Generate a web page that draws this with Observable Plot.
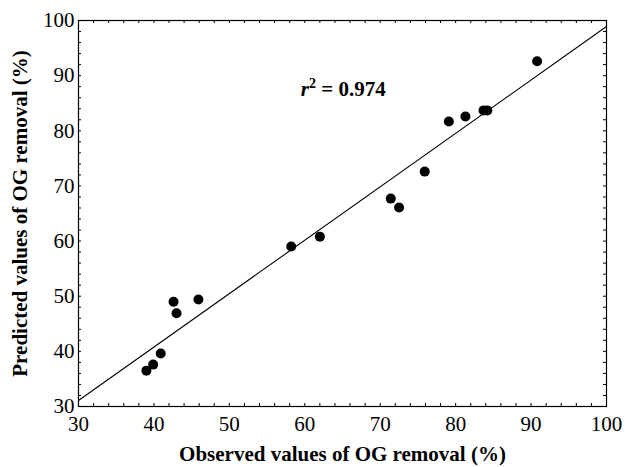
<!DOCTYPE html>
<html><head><meta charset="utf-8">
<script src="https://cdn.jsdelivr.net/npm/d3@7"></script>
<script src="https://cdn.jsdelivr.net/npm/@observablehq/plot@0.6"></script>
<style>html,body{margin:0;padding:0;background:#fff;}</style>
</head><body><div id="chart"></div>
<script>
// Data
const observed  = [39.0, 39.9, 40.9, 42.6, 43.0, 45.9, 58.2, 62.0, 71.4, 72.5, 75.9, 79.1, 81.3, 83.7, 84.2, 90.8];
const predicted = [36.5, 37.6, 39.6, 49.0, 46.9, 49.4, 59.0, 60.8, 67.7, 66.1, 72.6, 81.7, 82.6, 83.7, 83.7, 92.6];
const fitX = [30, 100];
const fitY = [31.1, 98.9];
const xTicks = [30, 40, 50, 60, 70, 80, 90, 100];
const yTicks = [30, 40, 50, 60, 70, 80, 90, 100];
const minorTicks = d3.range(30, 100.1, 2);
const xLabel = "Observed values of OG removal (%)";
const yLabel = "Predicted values of OG removal (%)";
const annotation = "r2 = 0.974";
const annotationAt = {x: 65.1, y: 87.6};

const points = observed.map((x, i) => ({x, y: predicted[i]}));
const fit = fitX.map((x, i) => ({x, y: fitY[i]}));

const W = 625, H = 467, mL = 78, mR = 19, mT = 20, mB = 61;
const innerH = H - mT - mB, innerW = W - mL - mR, tl = 3;
const serif = "'Liberation Serif','Times New Roman',Times,serif";

const chart = Plot.plot({
  width: W, height: H,
  marginLeft: mL, marginRight: mR, marginTop: mT, marginBottom: mB,
  style: {fontFamily: serif, fontSize: "21px", color: "black", background: "white"},
  x: {domain: [30, 100]},
  y: {domain: [30, 100]},
  marks: [
    Plot.line(fit, {x: "x", y: "y", stroke: "black", strokeWidth: 1.1}),
    Plot.dot(points, {x: "x", y: "y", r: 5, fill: "black", stroke: "none"}),
    Plot.tickX(minorTicks, {x: d => d, insetTop: innerH - tl, stroke: "black"}),
    Plot.tickX(minorTicks, {x: d => d, insetBottom: innerH - tl, stroke: "black"}),
    Plot.tickY(minorTicks, {y: d => d, insetRight: innerW - tl, stroke: "black"}),
    Plot.tickY(minorTicks, {y: d => d, insetLeft: innerW - tl, stroke: "black"}),
    Plot.axisX(xTicks, {anchor: "bottom", tickSize: 0, tickPadding: 10, label: null, fontSize: 21}),
    Plot.axisY(yTicks, {anchor: "left", tickSize: 0, tickPadding: 4, label: null, fontSize: 21}),
    Plot.frame({stroke: "black", strokeWidth: 1.2}),
    Plot.text([xLabel], {frameAnchor: "bottom", dy: 48, fontSize: 21, fontWeight: "bold", textAnchor: "middle", lineAnchor: "middle"}),
    Plot.text([yLabel], {frameAnchor: "left", dx: -58, rotate: -90, fontSize: 21, fontWeight: "bold", textAnchor: "middle", lineAnchor: "middle"}),
    Plot.text([annotation], {x: () => annotationAt.x, y: () => annotationAt.y, fontSize: 21, fontWeight: "bold", className: "r2label"})
  ]
});
document.getElementById("chart").appendChild(chart);

// Rich formatting for r^2 (italic r, superscript 2)
d3.select(chart).selectAll(".r2label text").each(function () {
  const t = d3.select(this);
  t.text(null);
  t.append("tspan").attr("font-style", "italic").text("r");
  t.append("tspan").attr("font-size", 14).attr("dy", -8).text("2");
  t.append("tspan").attr("dy", 8).text(" = 0.974");
});
</script>
</body></html>
